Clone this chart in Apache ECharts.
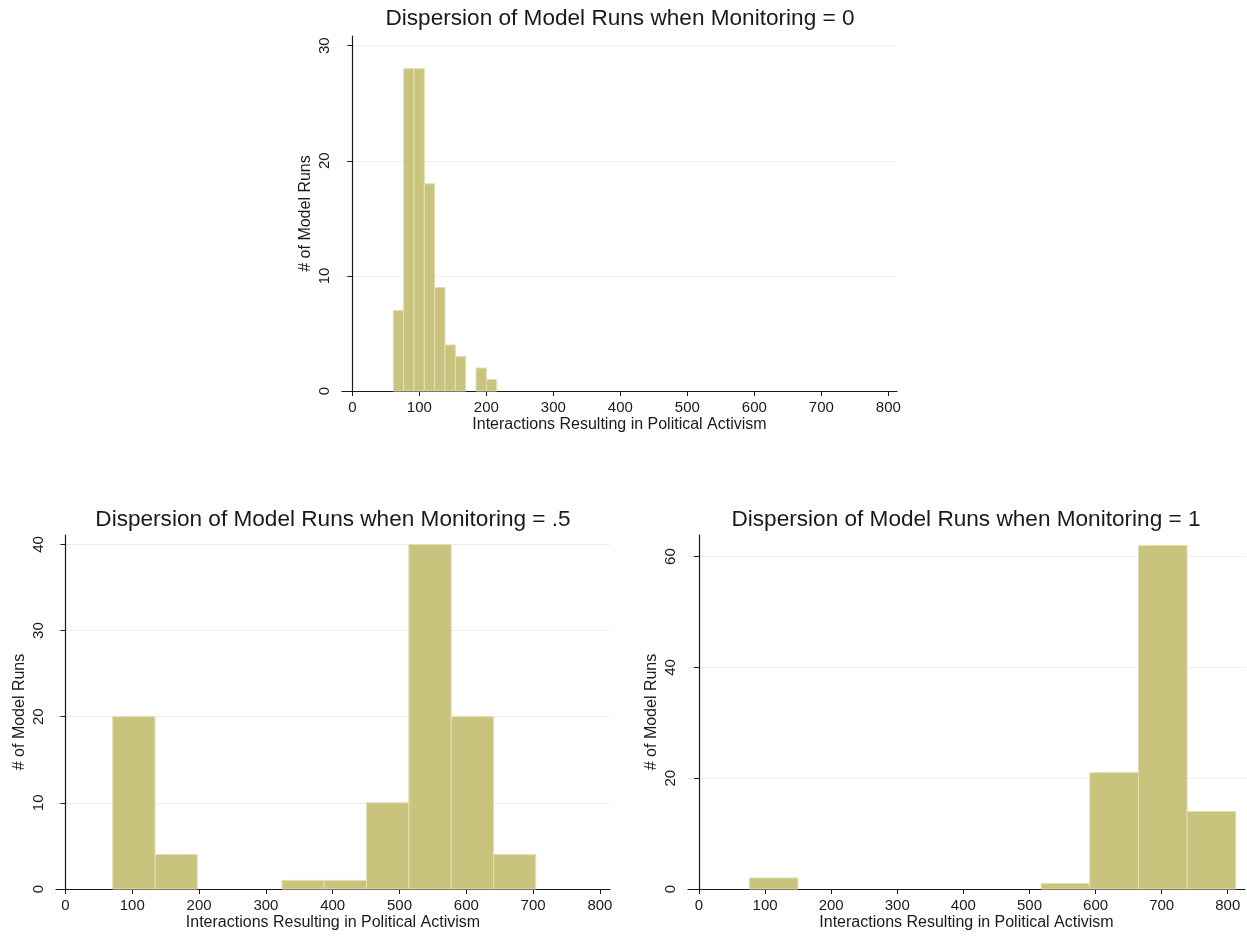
<!DOCTYPE html>
<html>
<head>
<meta charset="utf-8">
<script src="https://cdn.jsdelivr.net/npm/echarts@6/dist/echarts.min.js"></script>
<style>
  html, body { margin: 0; padding: 0; background: #ffffff; }
  #chart { width: 1247px; height: 936px; }
</style>
</head>
<body>
<div id="chart"></div>
<script>
// Histograms of interaction counts across 100 model runs, one panel per monitoring level.
const xTickValues = [0, 100, 200, 300, 400, 500, 600, 700, 800];

// Monitoring = 0
const runs0Title = 'Dispersion of Model Runs when Monitoring = 0';
const runs0BinStart = 61.2;
const runs0BinWidth = 15.43;
const runs0Counts = [7, 28, 28, 18, 9, 4, 3, 0, 2, 1];
const runs0YTicks = [0, 10, 20, 30];

// Monitoring = .5
const runsHalfTitle = 'Dispersion of Model Runs when Monitoring = .5';
const runsHalfBinStart = 70.7;
const runsHalfBinWidth = 63.33;
const runsHalfCounts = [20, 4, 0, 0, 1, 1, 10, 40, 20, 4];
const runsHalfYTicks = [0, 10, 20, 30, 40];

// Monitoring = 1
const runs1Title = 'Dispersion of Model Runs when Monitoring = 1';
const runs1BinStart = 76.1;
const runs1BinWidth = 73.6;
const runs1Counts = [2, 0, 0, 0, 0, 0, 1, 21, 62, 14];
const runs1YTicks = [0, 20, 40, 60];

const xName = 'Interactions Resulting in Political Activism';
const yName = '# of Model Runs';

const FONT = 'Liberation Sans, Arial, Helvetica, sans-serif';
const INK = '#1a1a1a';
const BAR_FILL = '#c8c47e';
const BAR_EDGE = '#e2dfb2';

function binsToData(start, width, counts) {
  return counts.map((c, i) => [start + i * width, start + (i + 1) * width, c]);
}

function renderBin(params, api) {
  const count = api.value(2);
  if (!count) return null;
  const topLeft = api.coord([api.value(0), count]);
  const bottomRight = api.coord([api.value(1), 0]);
  return {
    type: 'rect',
    shape: {
      x: topLeft[0],
      y: topLeft[1],
      width: bottomRight[0] - topLeft[0],
      height: bottomRight[1] - topLeft[1]
    },
    style: { fill: BAR_FILL, stroke: BAR_EDGE, lineWidth: 1 }
  };
}

const panels = [
  { title: runs0Title, titleX: 620, titleY: 7, start: runs0BinStart, width: runs0BinWidth, counts: runs0Counts,
    yTicks: runs0YTicks, grid: { left: 342, top: 36, width: 555, height: 355 }, xMin: -15.4, xMax: 812.9, yMax: 30.84 },
  { title: runsHalfTitle, titleX: 333, titleY: 508, start: runsHalfBinStart, width: runsHalfBinWidth, counts: runsHalfCounts,
    yTicks: runsHalfYTicks, grid: { left: 56, top: 535, width: 554, height: 354 }, xMin: -14.2, xMax: 815.1, yMax: 41.1 },
  { title: runs1Title, titleX: 966, titleY: 508, start: runs1BinStart, width: runs1BinWidth, counts: runs1Counts,
    yTicks: runs1YTicks, grid: { left: 688, top: 535, width: 557, height: 354 }, xMin: -16.6, xMax: 826.1, yMax: 63.9 }
];

const option = {
  backgroundColor: '#ffffff',
  animation: false,
  title: panels.map(p => ({
    text: p.title,
    left: p.titleX,
    top: p.titleY,
    textAlign: 'center',
    padding: 0,
    textStyle: { fontFamily: FONT, fontSize: 22.6, fontWeight: 'normal', color: INK }
  })),
  grid: panels.map(p => Object.assign({ containLabel: false }, p.grid)),
  xAxis: panels.map((p, i) => ({
    type: 'value',
    gridIndex: i,
    min: p.xMin,
    max: p.xMax,
    name: xName,
    nameLocation: 'middle',
    nameGap: 26,
    nameTextStyle: { fontFamily: FONT, fontSize: 16, color: INK },
    axisLine: { show: true, lineStyle: { color: INK, width: 1.2 } },
    axisTick: { show: true, length: 5, lineStyle: { color: INK, width: 1 }, customValues: xTickValues },
    axisLabel: { fontFamily: FONT, fontSize: 15, color: INK, margin: 9, customValues: xTickValues },
    splitLine: { show: false }
  })),
  yAxis: panels.map((p, i) => ({
    type: 'value',
    gridIndex: i,
    min: 0,
    max: p.yMax,
    name: yName,
    nameLocation: 'middle',
    nameRotate: 90,
    nameGap: 28,
    nameTextStyle: { fontFamily: FONT, fontSize: 16, color: INK },
    axisLine: { show: true, lineStyle: { color: INK, width: 1.2 } },
    axisTick: { show: true, length: 5, lineStyle: { color: INK, width: 1 }, customValues: p.yTicks },
    axisLabel: { fontFamily: FONT, fontSize: 15, color: INK, rotate: 90, margin: 10, customValues: p.yTicks },
    splitLine: { show: true, lineStyle: { color: '#ebeeee', width: 1 } }
  })),
  series: panels.map((p, i) => ({
    type: 'custom',
    xAxisIndex: i,
    yAxisIndex: i,
    renderItem: renderBin,
    encode: { x: [0, 1], y: 2 },
    data: binsToData(p.start, p.width, p.counts)
  }))
};

const chart = echarts.init(document.getElementById('chart'), null, { renderer: 'canvas' });
chart.setOption(option);
</script>
</body>
</html>
